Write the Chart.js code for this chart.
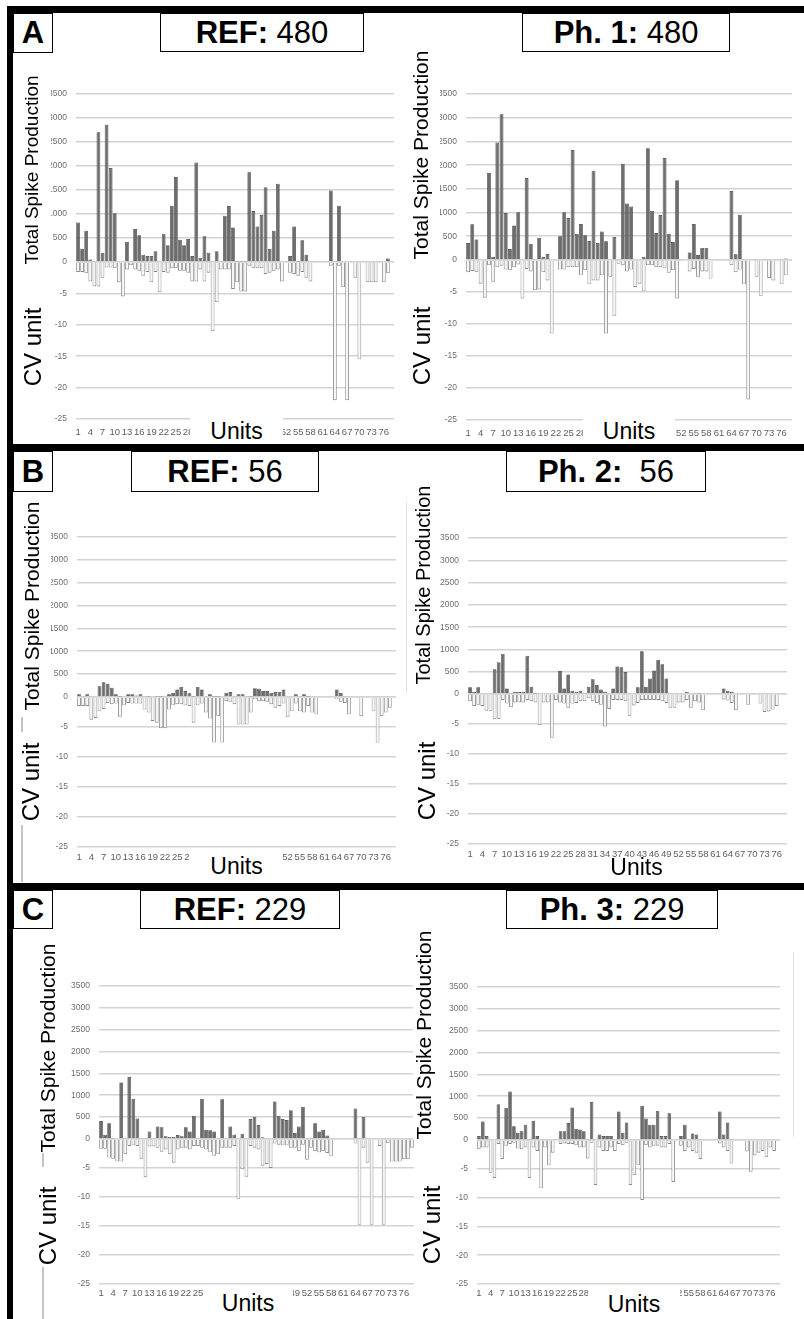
<!DOCTYPE html>
<html>
<head>
<meta charset="utf-8">
<script src="https://cdn.jsdelivr.net/npm/chart.js@4.4.0/dist/chart.umd.min.js"></script>
<style>
body{margin:0;background:#fff;width:804px;height:1319px;position:relative;overflow:hidden;font-family:"Liberation Sans",Arial,sans-serif;color:#000}
canvas{position:absolute;z-index:1}
.blk{position:absolute;background:#000;z-index:5}
.box{position:absolute;border:1.5px solid #000;box-sizing:border-box;background:#fff;display:flex;align-items:center;justify-content:center;font-size:31px;white-space:pre;z-index:4}
.rot{position:absolute;white-space:nowrap;transform:translate(-50%,-50%) rotate(-90deg);line-height:1.05;background:#fff;z-index:3}
.cover{position:absolute;background:#fff;z-index:2}
.units{position:absolute;background:#fff;font-size:23px;z-index:3;display:flex;justify-content:center;align-items:flex-end}
.ghost{position:absolute;background:#c4c4c4;z-index:2}
</style>
</head>
<body>
<script>
// units on the x axis
const units = [1,2,3,4,5,6,7,8,9,10,11,12,13,14,15,16,17,18,19,20,
  21,22,23,24,25,26,27,28,29,30,31,32,33,34,35,36,37,38,39,40,
  41,42,43,44,45,46,47,48,49,50,51,52,53,54,55,56,57,58,59,60,
  61,62,63,64,65,66,67,68,69,70,71,72,73,74,75,76,77,78];

const spikeTicks = [0, 500, 1000, 1500, 2000, 2500, 3000, 3500];
const cvTicks = [-25, -20, -15, -10, -5, 0];

// A: REF 480
const refA_spike = [820,275,650,50,20,2705,190,2860,1960,1015,
  0,0,420,0,685,555,150,125,125,225,
  0,590,350,1170,1770,465,350,480,125,2075,
  90,535,190,0,225,0,965,1165,720,5,
  5,5,1870,1060,740,980,1560,275,650,1630,
  0,0,125,740,5,450,150,0,0,0,
  0,0,1490,0,1170,0,0,0,0,10,
  0,0,0,0,0,0,70,0];
const refA_cv = [-1.6,-1.6,-1.8,-3.1,-3.9,-3.9,-2.5,-0.9,-0.9,-1.0,
  -3.2,-5.5,-1.2,-0.5,-1.2,-1.4,-2.2,-1.6,-3.2,-1.6,
  -4.8,-1.6,-1.7,-1.0,-1.0,-1.4,-1.4,-1.7,-3.1,-3.1,
  -1.2,-3.1,-1.7,-11.0,-6.4,-1.2,-1.2,-1.2,-4.3,-3.2,
  -4.7,-4.7,-0.6,-1.0,-1.0,-1.0,-1.9,-1.7,-1.4,-1.2,
  -3.1,0,-1.7,-1.9,-2.2,-1.6,-2.5,-3.1,0,0,
  0,0,-0.6,-22,-0.6,-4.0,-22,0,-2.5,-15.5,
  0,-3.2,-3.2,-3.2,0,-3.2,-1.8,0];

// Ph. 1: 480
const ph1_spike = [360,755,435,0,0,1835,70,2480,3075,990,
  230,730,1005,0,1730,345,0,470,70,125,
  0,0,500,1005,885,2320,555,760,520,400,
  1885,360,600,395,0,485,0,2030,1190,1130,
  0,0,70,2355,1040,570,950,2150,555,380,
  1685,0,0,160,760,105,255,255,0,0,
  0,0,0,1455,120,955,0,0,0,10,
  0,10,10,0,0,20,30,0];
const ph1_cv = [-1.9,-1.7,-1.9,-3.7,-5.9,-0.8,-3.4,-1.1,-0.9,-1.5,
  -1.6,-1.1,-0.7,-6.0,-1.4,-1.8,-4.7,-4.6,-1.9,-3.2,
  -11.5,0,-1.5,-1.5,-1.1,-1.1,-1.1,-2.4,-1.6,-3.8,
  -3.2,-3.2,-2.4,-11.5,-2.6,-8.7,-0.6,-0.8,-1.8,-1.5,
  -4.2,-3.7,-4.9,-0.8,-0.8,-1.1,-1.1,-1.3,-2.0,-1.6,
  -6.0,0,0,-1.8,-1.4,-2.6,-1.8,-1.8,-2.9,0,
  0,0,0,-0.8,-1.9,-1.5,-3.8,-21.8,0,-2.6,
  -5.6,0,-2.8,-3.2,0,-3.8,-2.4,0];

// B: REF 56
const refB_spike = [57,20,57,0,0,235,320,290,200,57,
  5,0,57,57,30,57,20,5,0,5,
  5,20,57,93,165,220,130,80,5,220,
  165,0,57,5,5,0,93,107,20,57,
  57,20,5,193,180,130,130,93,107,115,
  165,0,0,57,20,57,5,0,0,0,
  0,0,0,165,93,20,0,0,0,0,
  0,0,0,0,0,0,0,0];
const refB_cv = [-1.5,-1.5,-1.5,-3.8,-3.5,-2.4,-2.0,-1.0,-1.2,-1.1,
  -3.3,-1.4,-1.0,-1.1,-1.1,-1.1,-2.1,-2.6,-4.0,-4.3,
  -5.2,-5.2,-2.1,-1.4,-1.2,-1.2,-1.4,-1.5,-4.3,-1.4,
  -1.1,-2.6,-3.6,-7.6,-3.2,-7.6,-0.7,-0.8,-1.2,-4.6,
  -4.6,-4.6,-2.6,-0.4,-0.7,-0.7,-0.8,-1.2,-1.8,-1.5,
  -1.1,-3.3,-2.4,-1.1,-2.4,-2.6,-1.5,-2.6,-2.9,0,
  0,0,0,-0.4,-0.8,-1.0,-2.9,0,0,-3.2,
  0,0,-2.4,-7.6,-3.2,-2.6,-1.8,0];

// Ph. 2: 56
const ph2_spike = [150,50,150,0,0,0,555,715,900,125,
  30,50,50,50,860,160,5,0,0,0,
  0,0,515,125,440,75,50,75,30,160,
  330,200,100,50,0,125,620,600,495,0,
  0,150,960,160,345,530,765,665,345,0,
  0,0,0,50,0,20,5,0,0,0,
  0,0,125,75,50,0,0,0,0,0,
  0,0,0,0,0,0,0,0];
const ph2_cv = [-1.2,-2.0,-1.8,-2.0,-2.8,-2.8,-4.2,-4.2,-1.0,-1.6,
  -2.2,-1.4,-1.4,-1.4,-1.0,-1.2,-1.4,-5.2,-1.4,-1.4,
  -7.3,-1.0,-1.4,-1.6,-2.3,-1.6,-1.5,-1.2,-1.2,-0.7,
  -1.2,-1.5,-1.8,-5.4,-2.5,-1.0,-1.0,-1.0,-1.2,-3.7,
  -1.9,-1.5,-1.0,-1.0,-1.0,-1.0,-1.0,-1.2,-1.5,-2.3,
  -2.3,-1.4,-1.4,-1.0,-2.3,-1.2,-1.4,-2.7,0,0,
  0,0,-0.9,-1.1,-1.5,-2.7,0,0,-1.8,0,
  0,-1.6,-3.0,-2.9,-2.6,-2.0,0,0];

// C: REF 229
const refC_spike = [410,97,360,10,0,1295,10,1420,920,470,
  10,0,172,0,285,270,60,45,45,90,
  60,270,172,530,10,920,210,200,172,10,
  910,10,285,97,0,120,0,455,510,320,
  40,10,0,860,530,455,435,660,135,285,
  735,10,10,360,172,210,80,10,0,0,
  0,0,0,695,10,510,0,0,0,0,
  20,0,0,0,0,0,0,0];
const refC_cv = [-1.7,-1.7,-3.2,-3.4,-3.9,-3.9,-2.6,-1.2,-1.1,-1.2,
  -3.4,-6.6,-1.3,-1.3,-1.5,-2.2,-1.8,-2.6,-4.1,-1.8,
  -1.5,-1.5,-1.8,-1.2,-1.2,-1.5,-1.8,-2.3,-2.9,-2.6,
  -1.5,-1.5,-1.5,-1.2,-10.4,-5.2,-6.5,-1.2,-1.5,-1.8,
  -4.6,-4.3,-5.0,-0.8,-1.0,-1.1,-1.1,-1.5,-1.5,-2.1,
  -1.0,-3.6,-1.5,-2.1,-2.3,-2.1,-2.4,-3.0,0,0,
  0,0,0,-0.8,-14.8,-1.5,-4.1,-14.8,0,-1.2,
  -14.8,-0.7,-3.9,-3.9,-3.9,-3.5,-3.5,-1.5];

// Ph. 3: 229
const ph3_spike = [90,425,90,0,0,820,0,740,1110,315,
  165,200,350,10,440,90,0,10,10,0,
  0,200,200,390,745,255,240,200,10,870,
  0,125,90,90,90,0,650,165,400,0,
  0,10,785,490,350,350,665,90,90,610,
  0,0,90,350,10,150,125,10,0,0,
  0,0,650,125,400,10,0,0,0,0,
  0,0,0,0,0,0,0,0];
const ph3_cv = [-1.6,-1.3,-1.3,-5.7,-6.6,-0.7,-3.3,-1.0,-0.7,-0.5,
  -1.5,-1.6,-1.3,-6.6,-1.3,-1.9,-8.4,-1.3,-4.4,-2.2,
  0,-0.7,-0.6,-0.7,-0.7,-0.9,-1.3,-1.3,-3.2,-0.5,
  -7.8,-1.3,-1.9,-1.9,-1.3,-1.9,-0.7,-0.9,-0.5,-7.8,
  -6.1,-4.4,-10.4,-0.9,-1.3,-1.0,-1.0,-1.3,-1.3,-0.7,
  -7.3,0,-1.0,-1.9,-1.3,-1.9,-2.2,-3.3,0,0,
  0,0,-0.6,-1.3,-1.9,-4.1,0,0,0,-2.0,
  -5.5,-2.7,-2.2,-1.9,-3.0,-1.3,-1.9,0];

const letters = ['A', 'B', 'C'];
const titleBold = ['REF:', 'Ph. 1:', 'REF:', 'Ph. 2:', 'REF:', 'Ph. 3:'];
const titleCount = [' 480', ' 480', ' 56', '  56', ' 229', ' 229'];
const spikeLabel = 'Total Spike Production';
const cvLabel = 'CV unit';
const xLabel = 'Units';

// page geometry (pixels)
const panels = [
  {spike: refA_spike, cv: refA_cv, left: 76, right: 397, top: 88, zero: 259, bottom: 419, xPad: 8,
   box: [160, 13, 204, 39], tl: [32, 170, 19], cl: [33, 347, 24], ub: [190, 418, 93, 27], cover: [14, 76, 37, 190]},
  {spike: ph1_spike, cv: ph1_cv, left: 466, right: 795, top: 88, zero: 257, bottom: 420, xPad: 8,
   box: [522, 13, 208, 39], tl: [421, 155, 21], cl: [422, 346, 24], ub: [583, 418, 92, 27], cover: [412, 76, 28, 190]},
  {spike: refB_spike, cv: refB_cv, left: 77, right: 396, top: 531, zero: 694, bottom: 847, xPad: 5,
   box: [131, 451, 188, 41], tl: [32, 606, 21], cl: [31, 782, 24], ub: [190, 851, 93, 29], cover: [14, 520, 37, 182]},
  {spike: ph2_spike, cv: ph2_cv, left: 468, right: 787, top: 532, zero: 691, bottom: 844, xPad: 5,
   box: [506, 451, 200, 41], tl: [423, 585, 20], cl: [427, 781, 24], ub: [603, 859, 67, 22]},
  {spike: refC_spike, cv: refC_cv, left: 99, right: 414, top: 980, zero: 1136, bottom: 1284, xPad: 4,
   box: [140, 890, 200, 39], tl: [48, 1048, 21], cl: [48, 1226, 24], ub: [203, 1288, 90, 29]},
  {spike: ph3_spike, cv: ph3_cv, left: 477, right: 780, top: 981, zero: 1137, bottom: 1284, xPad: 4,
   box: [506, 890, 212, 39], tl: [424, 1035, 21], cl: [432, 1225, 24], ub: [588, 1288, 92, 30]}
];

function el(cls, x, y, w, h, html) {
  const d = document.createElement('div');
  d.className = cls;
  d.style.left = x + 'px';
  d.style.top = y + 'px';
  if (w != null) d.style.width = w + 'px';
  if (h != null) d.style.height = h + 'px';
  if (html != null) d.innerHTML = html;
  document.body.appendChild(d);
  return d;
}

const tickFont = {family: '"Liberation Sans", Arial, sans-serif', size: 8.5};

function makeChart(p) {
  const axisW = 36, padTop = 8, xH = 22, padR = 3;
  const canvas = document.createElement('canvas');
  canvas.width = (p.right - p.left) + axisW + padR;
  canvas.height = padTop + (p.bottom - p.top) + xH;
  canvas.style.left = (p.left - axisW) + 'px';
  canvas.style.top = (p.top - padTop) + 'px';
  document.body.appendChild(canvas);

  // the lower (CV) scale is declared first: Chart.js puts it below the upper one in the stack
  new Chart(canvas, {
    type: 'bar',
    data: {
      labels: units,
      datasets: [
        {data: p.spike, yAxisID: 'yTop', grouped: false,
         backgroundColor: '#6d6d6d', borderColor: '#3a3a3a', borderWidth: 0.7,
         barPercentage: 0.92, categoryPercentage: 1},
        {data: p.cv, yAxisID: 'yBot', grouped: false,
         backgroundColor: '#f6f6f6', borderColor: '#8a8a8a', borderWidth: 0.9,
         barPercentage: 0.92, categoryPercentage: 1}
      ]
    },
    options: {
      responsive: false,
      animation: false,
      devicePixelRatio: 1,
      layout: {padding: {top: padTop, right: padR, left: 0, bottom: 0}},
      plugins: {legend: {display: false}, tooltip: {enabled: false}},
      scales: {
        x: {
          grid: {display: false, drawTicks: false},
          border: {display: false},
          ticks: {
            autoSkip: false, maxRotation: 0, minRotation: 0, padding: p.xPad,
            font: {family: tickFont.family, size: 9.5}, color: '#5e5e5e',
            callback: (v, i) => i % 3 === 0 ? String(units[i]) : ''
          },
          afterFit: s => { s.height = xH; }
        },
        yBot: {
          position: 'left', stack: 'v', stackWeight: p.bottom - p.zero,
          min: -25, max: 0,
          afterBuildTicks: s => { s.ticks = cvTicks.map(v => ({value: v})); },
          grid: {color: '#d3d3d3', lineWidth: 1.6, drawTicks: false},
          border: {display: false},
          ticks: {autoSkip: false, padding: 9, font: tickFont, color: '#6e6e6e',
                  callback: v => v === 0 ? '' : String(v)},
          afterFit: s => { s.width = axisW; }
        },
        yTop: {
          position: 'left', stack: 'v', stackWeight: p.zero - p.top,
          min: 0, max: 3500,
          afterBuildTicks: s => { s.ticks = spikeTicks.map(v => ({value: v})); },
          grid: {color: '#d3d3d3', lineWidth: 1.6, drawTicks: false},
          border: {display: false},
          ticks: {autoSkip: false, padding: 9, font: tickFont, color: '#6e6e6e',
                  callback: v => String(v)},
          afterFit: s => { s.width = axisW; }
        }
      }
    }
  });
}

panels.forEach((p, i) => {
  makeChart(p);
  if (p.cover) el('cover', p.cover[0], p.cover[1], p.cover[2], p.cover[3]);
  el('box', p.box[0], p.box[1], p.box[2], p.box[3], '<b>' + titleBold[i] + '</b>' + titleCount[i]);
  const t = el('rot', p.tl[0], p.tl[1], null, null, spikeLabel);
  t.style.fontSize = p.tl[2] + 'px';
  const c = el('rot', p.cl[0], p.cl[1], null, null, cvLabel);
  c.style.fontSize = p.cl[2] + 'px';
  el('units', p.ub[0], p.ub[1], p.ub[2], p.ub[3], xLabel);
});

// frame and panel separators
el('blk', 7, 6, 797, 7);
el('blk', 7, 6, 6, 1313);
el('blk', 7, 444, 797, 7);
el('blk', 7, 883, 797, 7);
letters.forEach((L, i) => {
  el('box', 13, [13, 451, 890][i], 40, [40, 41, 39][i], '<b>' + L + '</b>');
});

// faint leftover axis lines from the source screenshots
el('ghost', 21, 717, 2, 15);
el('ghost', 21, 825, 2, 57);
el('ghost', 42, 1153, 2, 14);
el('ghost', 42, 1267, 2, 52);
el('ghost', 406, 502, 1, 191).style.background = '#e2e2e2';
el('ghost', 793, 952, 1, 185).style.background = '#e2e2e2';
</script>
</body>
</html>
